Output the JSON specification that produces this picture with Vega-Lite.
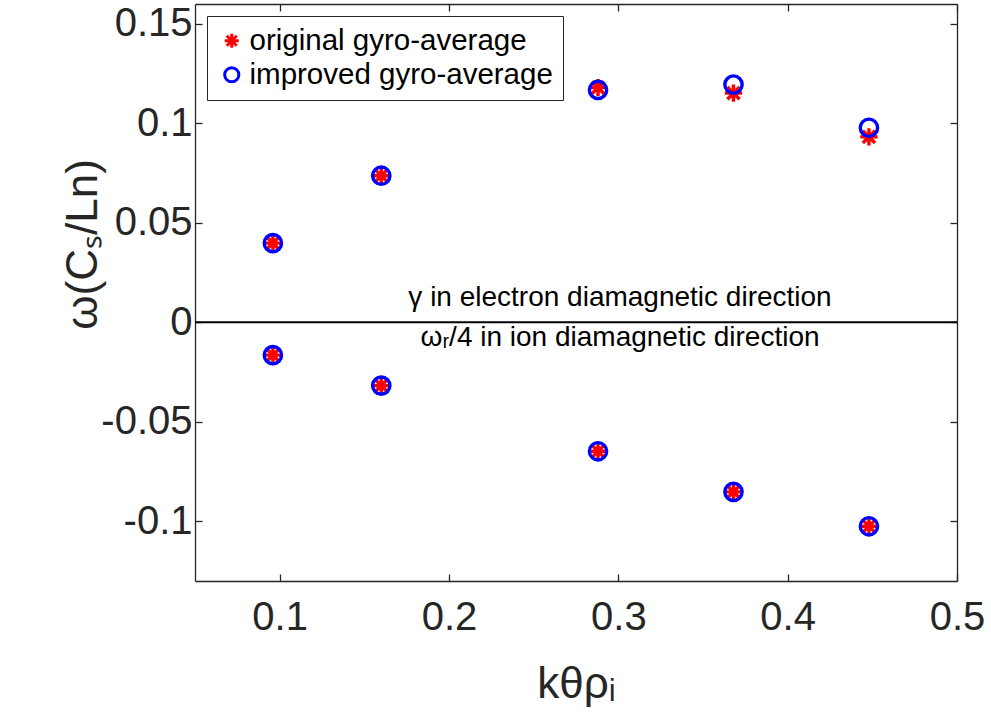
{
  "$schema": "https://vega.github.io/schema/vega-lite/v6.json",
  "width": 762,
  "height": 577,
  "autosize": {"type": "none"},
  "padding": {"left": 195, "top": 4, "right": 34, "bottom": 146},
  "background": "white",
  "config": {
    "view": {"stroke": null},
    "font": "Liberation Sans",
    "axis": {"grid": false, "domainColor": "#262626", "tickColor": "#262626", "domainWidth": 1.3, "tickWidth": 1.3, "labelColor": "#262626", "titleColor": "#262626", "titleFontWeight": "normal", "labelFont": "Liberation Sans", "titleFont": "Liberation Sans"}
  },
  "datasets": {
    "points": [
      {"k": 0.096, "w": 0.0398, "series": "original gyro-average"},
      {"k": 0.16, "w": 0.0737, "series": "original gyro-average"},
      {"k": 0.288, "w": 0.118, "series": "original gyro-average"},
      {"k": 0.368, "w": 0.1152, "series": "original gyro-average"},
      {"k": 0.448, "w": 0.0932, "series": "original gyro-average"},
      {"k": 0.096, "w": -0.0165, "series": "original gyro-average"},
      {"k": 0.16, "w": -0.0318, "series": "original gyro-average"},
      {"k": 0.288, "w": -0.0648, "series": "original gyro-average"},
      {"k": 0.368, "w": -0.0852, "series": "original gyro-average"},
      {"k": 0.448, "w": -0.1025, "series": "original gyro-average"},
      {"k": 0.096, "w": 0.0398, "series": "improved gyro-average"},
      {"k": 0.16, "w": 0.0737, "series": "improved gyro-average"},
      {"k": 0.288, "w": 0.1168, "series": "improved gyro-average"},
      {"k": 0.368, "w": 0.1195, "series": "improved gyro-average"},
      {"k": 0.448, "w": 0.0978, "series": "improved gyro-average"},
      {"k": 0.096, "w": -0.0165, "series": "improved gyro-average"},
      {"k": 0.16, "w": -0.0318, "series": "improved gyro-average"},
      {"k": 0.288, "w": -0.0648, "series": "improved gyro-average"},
      {"k": 0.368, "w": -0.0852, "series": "improved gyro-average"},
      {"k": 0.448, "w": -0.1025, "series": "improved gyro-average"}
    ],
    "notes": [
      {"k": 0.301, "w": 0.008, "label": "γ in electron diamagnetic direction"},
      {"k": 0.301, "w": -0.012, "label": "ωᵣ/4 in ion diamagnetic direction"}
    ]
  },
  "layer": [
    {
      "data": {"values": [{}]},
      "mark": {"type": "rule", "color": "black", "strokeWidth": 2},
      "encoding": {
        "y": {"datum": 0, "type": "quantitative", "scale": {"domain": [-0.13, 0.16], "nice": false, "zero": false}, "axis": null}
      }
    },
    {
      "data": {"name": "points"},
      "mark": {"type": "point", "filled": false, "size": 300, "strokeWidth": 3.4, "opacity": 1},
      "encoding": {
        "x": {"field": "k", "type": "quantitative", "scale": {"domain": [0.05, 0.5], "nice": false, "zero": false},
          "axis": {"orient": "bottom", "values": [0.1, 0.2, 0.3, 0.4, 0.5], "labelExpr": "'' + datum.value", "labelFontSize": 40, "tickSize": -7, "labelPadding": 23, "labelFlush": false, "labelOverlap": false, "title": "kθρᵢ", "titleFontSize": 44, "titleY": 116, "titleBaseline": "alphabetic"}},
        "y": {"field": "w", "type": "quantitative", "scale": {"domain": [-0.13, 0.16], "nice": false, "zero": false},
          "axis": {"orient": "left", "values": [-0.1, -0.05, 0, 0.05, 0.1, 0.15], "labelExpr": "'' + datum.value", "labelFontSize": 40, "tickSize": -7, "labelPadding": 10, "labelFlush": false, "labelOverlap": false, "title": "ω(Cₛ/Ln)", "titleFontSize": 44, "titleAngle": 270, "titleX": -112, "titleY": 240, "titleAlign": "center", "titleBaseline": "middle"}},
        "color": {"field": "series", "type": "nominal",
          "scale": {"domain": ["original gyro-average", "improved gyro-average"], "range": ["#ff0000", "#0000ff"]},
          "legend": {"orient": "none", "legendX": 12, "legendY": 12, "title": null, "labelFontSize": 29.5, "labelFont": "Liberation Sans", "labelColor": "black", "labelLimit": 0, "symbolSize": 200, "symbolStrokeWidth": 3, "strokeColor": "#262626", "fillColor": "white", "padding": 10, "rowPadding": 3, "labelOffset": 3}},
        "shape": {"field": "series", "type": "nominal",
          "scale": {"domain": ["original gyro-average", "improved gyro-average"], "range": ["M-1,0L1,0M0,-1L0,1M-0.7071,-0.7071L0.7071,0.7071M-0.7071,0.7071L0.7071,-0.7071", "circle"]}}
      }
    },
    {
      "data": {"name": "notes"},
      "mark": {"type": "text", "fontSize": 28, "font": "Liberation Sans", "align": "center", "baseline": "alphabetic", "color": "black"},
      "encoding": {
        "x": {"field": "k", "type": "quantitative", "scale": {"domain": [0.05, 0.5], "nice": false, "zero": false},
          "axis": {"orient": "top", "values": [0.1, 0.2, 0.3, 0.4, 0.5], "labels": false, "tickSize": -7, "title": null}},
        "y": {"field": "w", "type": "quantitative", "scale": {"domain": [-0.13, 0.16], "nice": false, "zero": false},
          "axis": {"orient": "right", "values": [-0.1, -0.05, 0, 0.05, 0.1, 0.15], "labels": false, "tickSize": -7, "title": null}},
        "text": {"field": "label"}
      }
    }
  ],
  "resolve": {"axis": {"x": "independent", "y": "independent"}}
}
